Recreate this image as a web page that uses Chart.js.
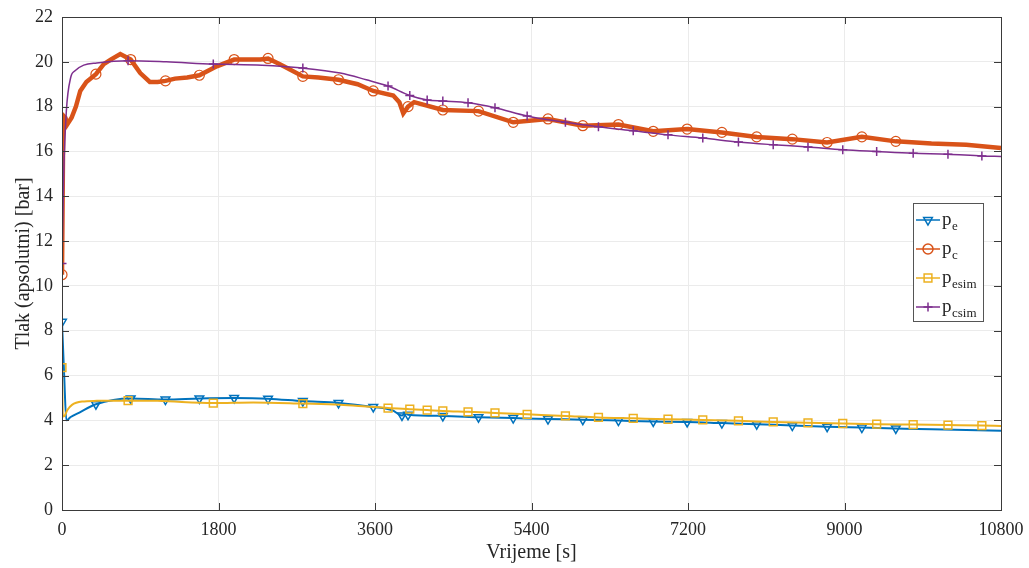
<!DOCTYPE html>
<html>
<head>
<meta charset="utf-8">
<script src="https://cdn.jsdelivr.net/npm/chart.js@4/dist/chart.umd.min.js"></script>
<style>
  html, body { margin: 0; padding: 0; background: #fff; }
  canvas { display: block; }
</style>
</head>
<body>
<canvas id="grafTlak" width="1029" height="568"></canvas>
<script>
// vremena [s] i tlakovi [bar]
const tPe = [0, 25, 50, 100, 200, 390, 790, 1190, 1580, 1980, 2370, 2770, 3180, 3580, 3800, 3910, 3950, 3980, 4380, 4790,
  5190, 5590, 5990, 6400, 6800, 7190, 7590, 7990, 8400, 8800, 9200, 9590, 10000, 10400, 10800];
const pe = [8.4, 6.0, 4.0, 4.15, 4.35, 4.72, 4.98, 4.93, 4.98, 5.0, 4.97, 4.86, 4.78, 4.6, 4.45, 4.22, 4.33, 4.25, 4.2, 4.14,
  4.1, 4.06, 4.03, 3.99, 3.95, 3.93, 3.88, 3.83, 3.77, 3.72, 3.68, 3.64, 3.6, 3.57, 3.54];

const tPc = [0, 15, 40, 60, 110, 160, 210, 280, 390, 480, 560, 670, 790, 900, 1010, 1100, 1190, 1300, 1440, 1580,
  1780, 1980, 2100, 2280, 2370, 2500, 2600, 2770, 2950, 3180, 3400, 3580, 3810, 3880, 3925, 3980, 4050, 4380, 4790, 5190,
  5590, 5990, 6400, 6800, 7190, 7590, 7990, 8400, 8800, 9200, 9590, 10000, 10400, 10800];
const pc = [10.5, 17.6, 17.5, 17.2, 17.5, 18.0, 18.7, 19.1, 19.45, 19.9, 20.1, 20.35, 20.1, 19.5, 19.1, 19.1, 19.15, 19.25, 19.3, 19.4,
  19.8, 20.1, 20.1, 20.1, 20.15, 19.9, 19.7, 19.35, 19.3, 19.2, 19.0, 18.7, 18.5, 18.2, 17.7, 18.0, 18.2, 17.85, 17.8, 17.3,
  17.45, 17.15, 17.2, 16.9, 17.0, 16.85, 16.65, 16.55, 16.4, 16.65, 16.45, 16.35, 16.3, 16.15];

const tPesim = [0, 10, 30, 60, 115, 230, 400, 760, 1100, 1740, 2200, 2770, 3200, 3500, 3750, 4000, 4200, 4380, 4670, 4980,
  5350, 5790, 6170, 6570, 6970, 7370, 7780, 8180, 8580, 8980, 9370, 9790, 10190, 10580, 10800];
const pesim = [6.35, 4.17, 4.2, 4.45, 4.69, 4.84, 4.87, 4.88, 4.87, 4.77, 4.8, 4.75, 4.7, 4.62, 4.55, 4.5, 4.46, 4.42, 4.38, 4.33,
  4.27, 4.2, 4.13, 4.09, 4.05, 4.02, 3.98, 3.93, 3.89, 3.86, 3.83, 3.81, 3.79, 3.77, 3.75];

const tPcsim = [0, 20, 50, 100, 150, 250, 400, 760, 1200, 1740, 2300, 2770, 3200, 3500, 3750, 4000, 4200, 4380, 4670, 4980,
  5350, 5790, 6170, 6570, 6970, 7370, 7780, 8180, 8580, 8980, 9370, 9790, 10190, 10580, 10800];
const pcsim = [11.0, 15.0, 17.8, 19.3, 19.6, 19.85, 19.95, 20.05, 20.0, 19.9, 19.85, 19.72, 19.5, 19.2, 18.92, 18.5, 18.3, 18.25, 18.17, 17.95,
  17.58, 17.3, 17.1, 16.92, 16.74, 16.6, 16.42, 16.3, 16.2, 16.08, 16.0, 15.92, 15.88, 15.8, 15.78];

// trenuci na kojima stoje markeri
const mjerMarks = [0, 390, 790, 1190, 1580, 1980, 2370, 2770, 3180, 3580, 3910, 3980, 4380, 4790, 5190, 5590, 5990,
  6400, 6800, 7190, 7590, 7990, 8400, 8800, 9200, 9590];
const simMarks = [0, 760, 1740, 2770, 3750, 4000, 4200, 4380, 4670, 4980, 5350, 5790, 6170, 6570, 6970, 7370, 7780,
  8180, 8580, 8980, 9370, 9790, 10190, 10580];

const xTicks = [0, 1800, 3600, 5400, 7200, 9000, 10800];
const yTicks = [0, 2, 4, 6, 8, 10, 12, 14, 16, 18, 20, 22];

const spoji = (t, v) => t.map((x, i) => ({ x: x, y: v[i] }));
const marker = (marks, r) => ctx => (ctx.raw && marks.includes(ctx.raw.x)) ? r : 0;

const boje = { pe: '#0072BD', pc: '#D95319', pesim: '#EDB120', pcsim: '#7E2F8E' };
const serif = 'Liberation Serif, Times New Roman, serif';

Chart.defaults.font.family = serif;
Chart.defaults.color = '#262626';

// okvir s unutarnjim crticama (kao u MATLAB-u)
const okvir = {
  id: 'okvir',
  afterDatasetsDraw(chart) {
    const { ctx, chartArea: a, scales: { x, y } } = chart;
    ctx.save();
    ctx.strokeStyle = '#3a3a3a';
    ctx.lineWidth = 1;
    ctx.strokeRect(a.left + 0.5, a.top + 0.5, a.right - a.left, a.bottom - a.top);
    ctx.beginPath();
    xTicks.slice(1, -1).forEach(v => {
      const px = Math.round(x.getPixelForValue(v)) + 0.5;
      ctx.moveTo(px, a.bottom); ctx.lineTo(px, a.bottom - 7);
      ctx.moveTo(px, a.top); ctx.lineTo(px, a.top + 7);
    });
    yTicks.slice(1, -1).forEach(v => {
      const py = Math.round(y.getPixelForValue(v)) + 0.5;
      ctx.moveTo(a.left, py); ctx.lineTo(a.left + 7, py);
      ctx.moveTo(a.right, py); ctx.lineTo(a.right - 7, py);
    });
    ctx.stroke();
    ctx.restore();
  }
};

// legenda s indeksima
const legenda = {
  id: 'legenda',
  afterDraw(chart) {
    const { ctx, chartArea: a } = chart;
    const bx = a.right - 88, by = a.top + 186, bw = 70, bh = 118;
    const stavke = [
      { boja: boje.pe, stil: 'triangle', rot: 180, r: 5, ind: 'e' },
      { boja: boje.pc, stil: 'circle', rot: 0, r: 5, ind: 'c' },
      { boja: boje.pesim, stil: 'rect', rot: 0, r: 5.5, ind: 'esim' },
      { boja: boje.pcsim, stil: 'cross', rot: 0, r: 4.5, ind: 'csim' }
    ];
    ctx.save();
    ctx.fillStyle = '#fff';
    ctx.fillRect(bx, by, bw, bh);
    ctx.strokeStyle = '#555';
    ctx.lineWidth = 1;
    ctx.strokeRect(bx + 0.5, by + 0.5, bw, bh);
    stavke.forEach((s, i) => {
      const yy = by + 17 + i * 29;
      ctx.strokeStyle = s.boja;
      ctx.lineWidth = 1.5;
      ctx.beginPath();
      ctx.moveTo(bx + 3, yy); ctx.lineTo(bx + 27, yy);
      ctx.stroke();
      ctx.fillStyle = 'rgba(0,0,0,0)';
      Chart.helpers.drawPoint(ctx, { pointStyle: s.stil, rotation: s.rot, radius: s.r, borderWidth: 1.5 }, bx + 15, yy);
      ctx.fillStyle = '#262626';
      ctx.textBaseline = 'alphabetic';
      ctx.textAlign = 'left';
      ctx.font = '19px ' + serif;
      ctx.fillText('p', bx + 29, yy + 5);
      ctx.font = '13px ' + serif;
      ctx.fillText(s.ind, bx + 39, yy + 10);
    });
    ctx.restore();
  }
};

const ctx = document.getElementById('grafTlak').getContext('2d');

const grafTlak = new Chart(ctx, {
  type: 'line',
  data: {
    datasets: [
      {
        label: 'pcsim', data: spoji(tPcsim, pcsim),
        borderColor: boje.pcsim, borderWidth: 1.5, cubicInterpolationMode: 'monotone',
        pointStyle: 'cross', pointRadius: marker(simMarks, 4.5),
        pointBorderColor: boje.pcsim, pointBorderWidth: 1.5, fill: false
      },
      {
        label: 'pesim', data: spoji(tPesim, pesim),
        borderColor: boje.pesim, borderWidth: 2, cubicInterpolationMode: 'monotone',
        pointStyle: 'rect', pointRadius: marker(simMarks, 5.5),
        pointBorderColor: boje.pesim, pointBackgroundColor: 'rgba(0,0,0,0)', pointBorderWidth: 1.5, fill: false
      },
      {
        label: 'pc', data: spoji(tPc, pc),
        borderColor: boje.pc, borderWidth: 4.5, tension: 0,
        pointStyle: 'circle', pointRadius: marker(mjerMarks, 5),
        pointBorderColor: boje.pc, pointBackgroundColor: 'rgba(0,0,0,0)', pointBorderWidth: 1.2, fill: false
      },
      {
        label: 'pe', data: spoji(tPe, pe),
        borderColor: boje.pe, borderWidth: 2, cubicInterpolationMode: 'monotone',
        pointStyle: 'triangle', pointRotation: 180, pointRadius: marker(mjerMarks, 5),
        pointBorderColor: boje.pe, pointBackgroundColor: 'rgba(0,0,0,0)', pointBorderWidth: 1.5, fill: false
      }
    ]
  },
  options: {
    responsive: false,
    animation: false,
    devicePixelRatio: 1,
    events: [],
    layout: { padding: { top: 17, right: 28, left: 0, bottom: 0 } },
    plugins: { legend: { display: false }, tooltip: { enabled: false } },
    scales: {
      x: {
        type: 'linear', min: 0, max: 10800,
        afterBuildTicks: s => { s.ticks = xTicks.map(v => ({ value: v })); },
        ticks: { padding: 9, maxRotation: 0, font: { size: 18 }, callback: v => String(v) },
        grid: { color: '#ebebeb', drawTicks: false },
        border: { display: false },
        title: { display: true, text: 'Vrijeme [s]', font: { size: 20 }, padding: { top: 0, bottom: 3 } },
        afterFit: s => { s.height = 58; s.paddingLeft = 0; s.paddingRight = 0; }
      },
      y: {
        min: 0, max: 22,
        afterBuildTicks: s => { s.ticks = yTicks.map(v => ({ value: v })); },
        ticks: { padding: 9, font: { size: 18 }, callback: v => String(v) },
        grid: { color: '#ebebeb', drawTicks: false },
        border: { display: false },
        title: { display: true, text: 'Tlak (apsolutni) [bar]', font: { size: 20 }, padding: { top: 12, bottom: 0 } },
        afterFit: s => { s.width = 62; s.paddingTop = 0; s.paddingBottom = 0; }
      }
    }
  },
  plugins: [okvir, legenda]
});
</script>
</body>
</html>
